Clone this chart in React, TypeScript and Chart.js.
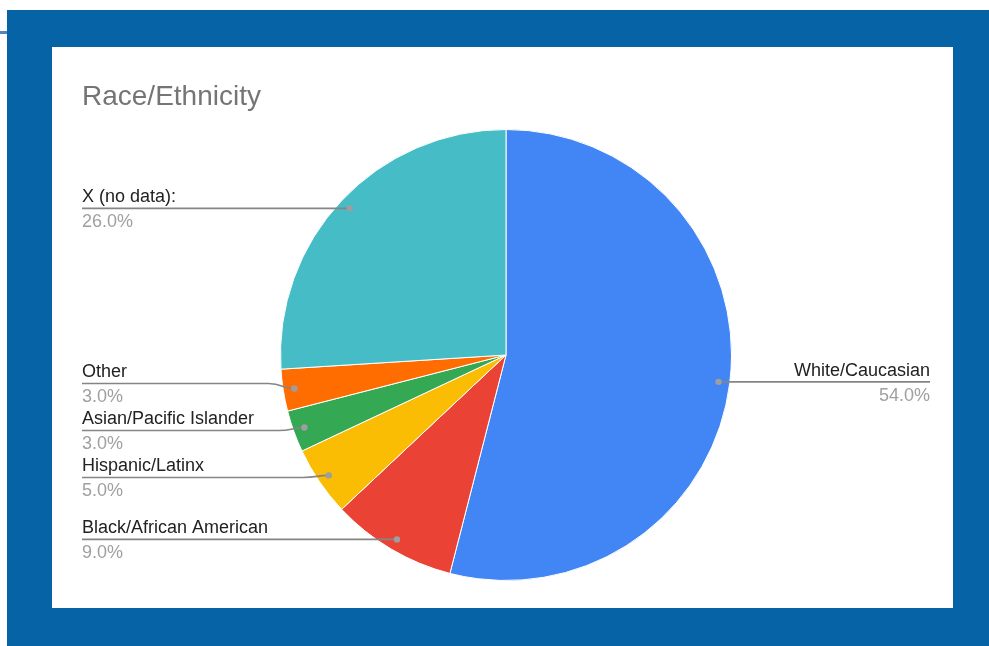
import { useEffect, useRef } from 'react';
import { Chart, registerables } from 'chart.js';

Chart.register(...registerables);

const titleText = 'Race/Ethnicity';
const categories = [
  'White/Caucasian',
  'Black/African American',
  'Hispanic/Latinx',
  'Asian/Pacific Islander',
  'Other',
  'X (no data):',
];
const values = [54, 9, 5, 3, 3, 26];
const colors = ['#4285F4', '#EA4335', '#FBBC04', '#34A853', '#FF6D01', '#46BDC6'];

const FONT = '"Liberation Sans", Arial, sans-serif';
const LEFT_X = 30;
const RIGHT_X = 878;
const GAP = 47;

const leaderPlugin = {
  id: 'leaders',
  afterDraw(chart: any) {
    const ctx = chart.ctx as CanvasRenderingContext2D;
    const meta = chart.getDatasetMeta(0);
    const total = values.reduce((a, b) => a + b, 0);
    const items = meta.data.map((arc: any, i: number) => {
      const p = arc.getProps(['x', 'y', 'startAngle', 'endAngle', 'outerRadius'], true);
      const mid = (p.startAngle + p.endAngle) / 2;
      const dx = p.x + Math.cos(mid) * p.outerRadius * 0.95;
      const dy = p.y + Math.sin(mid) * p.outerRadius * 0.95;
      return { i, dx, dy, ly: dy, right: Math.cos(mid) >= 0 };
    });

    for (const side of [true, false]) {
      const list = items.filter((it: any) => it.right === side).sort((a: any, b: any) => a.dy - b.dy);
      const clusters: any[] = list.map((it: any) => ({ items: [it], start: it.dy }));
      let merged = true;
      while (merged) {
        merged = false;
        for (let k = 0; k < clusters.length - 1; k++) {
          const a = clusters[k];
          const b = clusters[k + 1];
          if (a.start + a.items.length * GAP > b.start) {
            const its = a.items.concat(b.items);
            const mean = its.reduce((s: number, it: any) => s + it.dy, 0) / its.length;
            clusters.splice(k, 2, { items: its, start: mean - ((its.length - 1) * GAP) / 2 });
            merged = true;
            break;
          }
        }
      }
      clusters.forEach((c) => c.items.forEach((it: any, j: number) => (it.ly = c.start + j * GAP)));
    }

    ctx.save();
    ctx.font = `28px ${FONT}`;
    ctx.fillStyle = '#757575';
    ctx.textAlign = 'left';
    ctx.textBaseline = 'alphabetic';
    ctx.fillText(titleText, 30, 58);

    for (const it of items) {
      ctx.strokeStyle = '#858585';
      ctx.lineWidth = 1.6;
      ctx.beginPath();
      const lx = it.right ? RIGHT_X : LEFT_X;
      ctx.moveTo(lx, it.ly);
      if (Math.abs(it.ly - it.dy) < 1) {
        ctx.lineTo(it.dx, it.dy);
      } else {
        const s = it.right ? 1 : -1;
        ctx.lineTo(it.dx + s * 26, it.ly);
        ctx.bezierCurveTo(it.dx + s * 12, it.ly, it.dx + s * 12, it.dy, it.dx, it.dy);
      }
      ctx.stroke();
      ctx.fillStyle = '#9e9e9e';
      ctx.beginPath();
      ctx.arc(it.dx, it.dy, 3.2, 0, Math.PI * 2);
      ctx.fill();

      ctx.textAlign = it.right ? 'right' : 'left';
      ctx.font = `18px ${FONT}`;
      ctx.fillStyle = '#222222';
      ctx.fillText(categories[it.i], lx, it.ly - 6);
      ctx.fillStyle = '#a0a0a0';
      ctx.fillText(((values[it.i] / total) * 100).toFixed(1) + '%', lx, it.ly + 19);
    }
    ctx.restore();
  },
};

export default function App() {
  const ref = useRef<HTMLCanvasElement>(null);
  useEffect(() => {
    if (!ref.current) return;
    const chart = new Chart(ref.current, {
      type: 'pie',
      data: {
        labels: categories,
        datasets: [
          {
            data: values,
            backgroundColor: colors,
            borderColor: '#ffffff',
            borderWidth: 1,
          },
        ],
      },
      options: {
        responsive: false,
        animation: false,
        layout: { padding: { left: 228, right: 221, top: 82, bottom: 27 } },
        plugins: {
          legend: { display: false },
          tooltip: { enabled: false },
          title: { display: false },
        },
      },
      plugins: [leaderPlugin],
    });
    return () => chart.destroy();
  }, []);

  return (
    <div style={{ position: 'fixed', left: 0, top: 0, width: 989, height: 646, background: '#ffffff', overflow: 'hidden' }}>
      <div style={{ position: 'absolute', left: 0, top: 31, width: 7, height: 3, background: '#4f86bf' }} />
      <div style={{ position: 'absolute', left: 7, top: 10, width: 982, height: 636, background: '#0563a6' }} />
      <div style={{ position: 'absolute', left: 52, top: 47, width: 901, height: 561, background: '#ffffff' }}>
        <canvas ref={ref} width={901} height={561} style={{ display: 'block', width: 901, height: 561 }} />
      </div>
    </div>
  );
}
